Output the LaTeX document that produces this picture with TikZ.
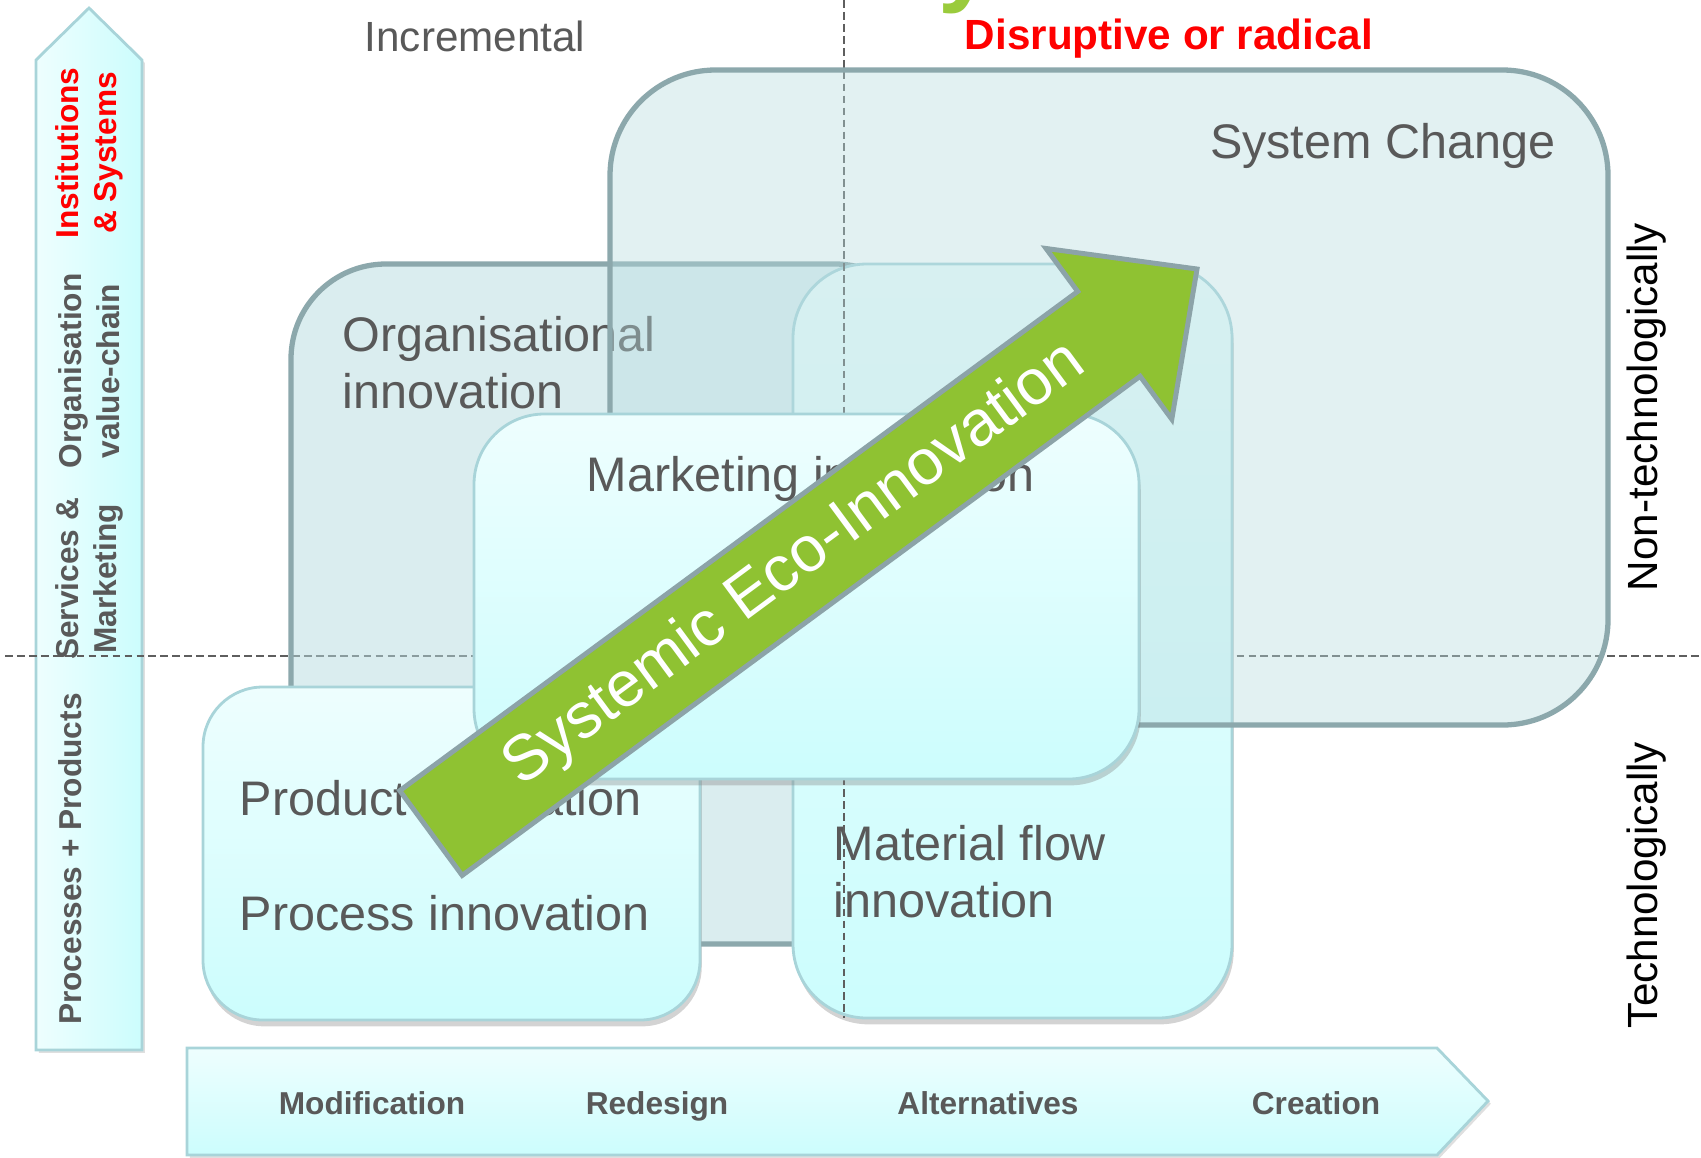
\documentclass[tikz,border=0pt]{standalone}
\usepackage{fontspec}
\setmainfont{Liberation Sans}
\usepackage{xcolor}
\usepackage{tikz}
\usetikzlibrary{calc,shadows}
\definecolor{textgray}{HTML}{595959}
\definecolor{tealline}{HTML}{8CA8AC}
\definecolor{boxteal}{HTML}{B6DBDF}
\definecolor{cyanlight}{HTML}{EEFEFE}
\definecolor{cyandeep}{HTML}{CCFDFD}
\definecolor{cyanedge}{HTML}{A8D4D9}
\definecolor{ecogreen}{HTML}{8FC232}
\definecolor{arrowedge}{HTML}{8CA3A8}
\definecolor{dashgray}{HTML}{5E5E5E}
\definecolor{titlegreen}{HTML}{9ACB3C}
\tikzset{
  axisarrow/.style={draw=cyanedge, line width=0.8pt, drop shadow={shadow xshift=0.8pt, shadow yshift=-0.8pt, opacity=0.25}},
  darkbox/.style={draw=tealline, line width=1.5pt, fill=boxteal},
  lightbox/.style={draw=cyanedge, line width=0.8pt, top color=cyanlight, bottom color=cyandeep, drop shadow={shadow xshift=0.5pt, shadow yshift=-1.8pt, opacity=0.35}},
  quadline/.style={draw=dashgray, line width=0.7pt, dash pattern=on 2.2pt off 1.2pt},
  boxlbl/.style={text=textgray, font=\fontsize{13.8}{16.2}\selectfont, inner sep=0pt, align=left},
  axislbl/.style={text=textgray, font=\bfseries\fontsize{9}{10.8}\selectfont, inner sep=0pt, align=center},
  sidelbl/.style={font=\fontsize{12}{14}\selectfont, inner sep=0pt},
  radlbl/.style={text=red, font=\bfseries\fontsize{12}{14}\selectfont, inner sep=0pt},
  ecoarrow/.style={draw=arrowedge, line width=1.4pt, fill=ecogreen, line join=miter}
}

\begin{document}
\begin{tikzpicture}[x=0.01cm, y=-0.01cm]
  \useasboundingbox (0,0) rectangle (1701,1157);

  % axis arrows
  \path[axisarrow, left color=cyanlight, right color=cyandeep]
    (36,1050) -- (36,60) -- (89,8) -- (142,60) -- (142,1050) -- cycle;
  \path[axisarrow, top color=cyanlight, bottom color=cyandeep]
    (187,1048) -- (1437,1048) -- (1488,1101) -- (1437,1155) -- (187,1155) -- cycle;

  % quadrant line (horizontal)
  \coordinate (hl) at (5,656);
  \coordinate (hr) at (1701,656);
  \draw[quadline] (hl) -- (hr);

  % organisational box
  \path[darkbox, fill opacity=0.5, rounded corners=27pt] (291,264) rectangle (930,944);
  \node[boxlbl, anchor=west] (orgtext) at (342,363) {Organisational\\innovation};

  % material flow box
  \path[lightbox, rounded corners=21pt] (793,264) rectangle (1232,1018);
  \node[boxlbl, anchor=west] (mattext) at (833,872) {Material flow\\innovation};

  % quadrant line (vertical)
  \coordinate (vt) at (844,0);
  \coordinate (vb) at (844,1018);
  \draw[quadline] (vt) -- (vb);

  % system change box
  \path[darkbox, fill opacity=0.4, rounded corners=30pt] (610,70) rectangle (1608,725);
  \node[boxlbl, anchor=east] (systext) at (1556,146) {System Change};

  % product / process box
  \path[lightbox, rounded corners=17pt] (203,687) rectangle (700,1020);
  \node[boxlbl, anchor=base west] (prodtext) at (239,815) {Product innovation};
  \node[boxlbl, anchor=base west] (proctext) at (239,930) {Process innovation};

  % marketing box
  \path[lightbox, rounded corners=20pt] (474,414) rectangle (1139,779);
  \node[boxlbl, anchor=base west] (mkttext) at (586,491) {Marketing innovation};

  % eco-innovation arrow
  \coordinate (tail) at (431,833);
  \coordinate (tip) at (1197,269);
  \coordinate (neck) at ($(tail)!0.885!(tip)$);
  \draw[ecoarrow] ($(tail)!5.26mm!90:(tip)$) -- ($(neck)!5.26mm!90:(tip)$)
    -- ($(neck)!10.6mm!90:(tip)$) -- (tip) -- ($(neck)!10.6mm!-90:(tip)$)
    -- ($(neck)!5.26mm!-90:(tip)$) -- ($(tail)!5.26mm!-90:(tip)$) -- cycle;
  \node[text=white, font=\fontsize{18.2}{21}\selectfont, rotate=36.4, inner sep=0pt]
    (ecotext) at ($(tail)!0.475!(tip)$) {Systemic Eco-Innovation};

  % top and side labels
  \node[font=\bfseries\fontsize{28}{30}\selectfont, text=titlegreen, anchor=base west, inner sep=0pt] (titlefrag) at (938,-7) {y};
  \node[sidelbl, text=textgray] (incr) at (475,36) {Incremental};
  \node[radlbl] (disr) at (1169,39) {Disruptive or radical};
  \node[sidelbl, rotate=90] (nontech) at (1647,407) {Non-technologically};
  \node[sidelbl, rotate=90] (tech) at (1647,885) {Technologically};

  % vertical axis labels
  \node[axislbl, rotate=90, text=red] (instlbl) at (89,153) {Institutions\\\& Systems};
  \node[axislbl, rotate=90] (orglbl) at (89,371) {Organisation\\value-chain};
  \node[axislbl, rotate=90] (servlbl) at (89,579) {Services \&\\Marketing};
  \node[axislbl, rotate=90] (proclbl) at (70,859) {Processes + Products};

  % horizontal axis labels
  \node[axislbl, anchor=base] (modlbl) at (372,1114) {Modification};
  \node[axislbl, anchor=base] (redlbl) at (657,1114) {Redesign};
  \node[axislbl, anchor=base] (altlbl) at (988,1114) {Alternatives};
  \node[axislbl, anchor=base] (crelbl) at (1316,1114) {Creation};
\end{tikzpicture}
\end{document}
